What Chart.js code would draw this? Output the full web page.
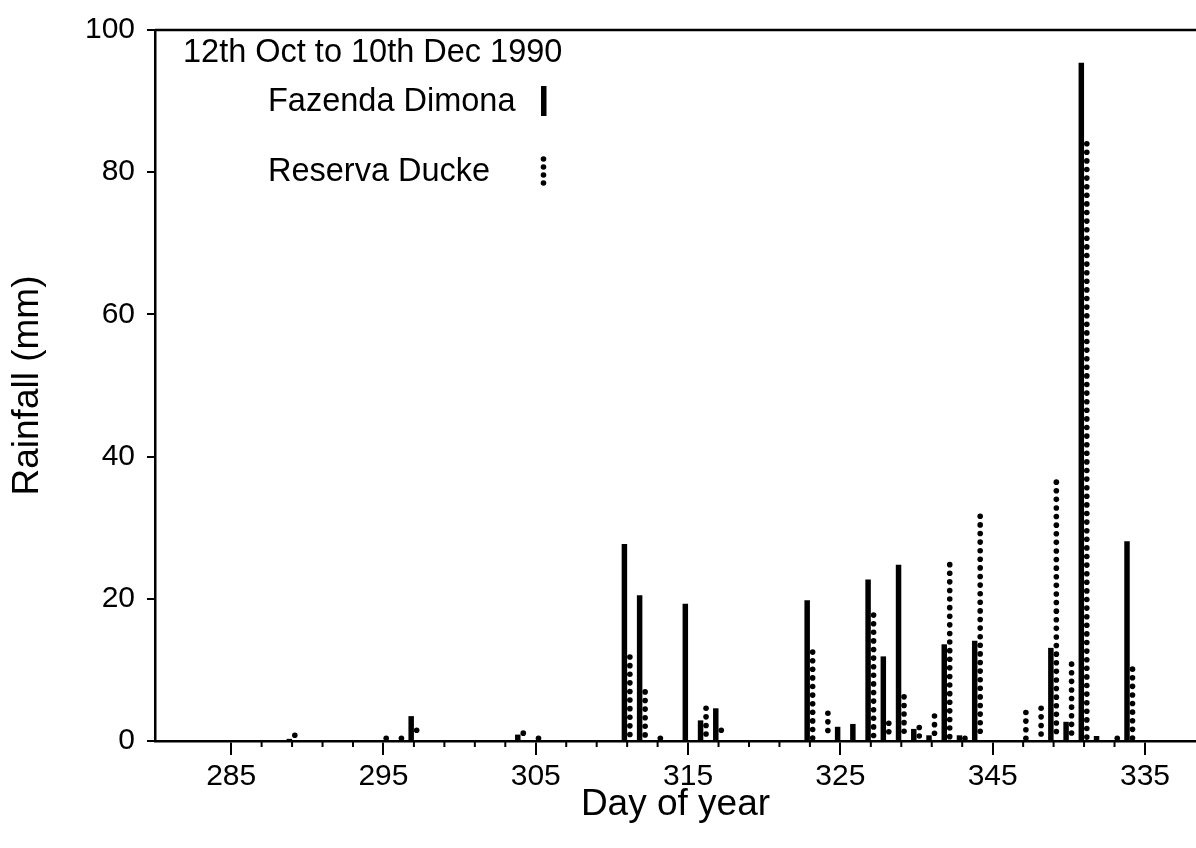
<!DOCTYPE html>
<html>
<head>
<meta charset="utf-8">
<script src="https://cdn.jsdelivr.net/npm/chart.js@4.4.1/dist/chart.umd.min.js"></script>
<style>
  html, body { margin: 0; padding: 0; background: #fff; }
  #wrap { width: 1196px; height: 848px; }
</style>
</head>
<body>
<div id="wrap"><canvas id="canvas"></canvas></div>
<script>
// days with rain, and daily totals (mm) at the two sites
const days = [289, 295, 296, 297, 304, 305, 311, 312, 313, 315, 316, 317, 323, 324, 325, 326,
              327, 328, 329, 330, 331, 332, 333, 334, 337, 338, 339, 340, 341, 342, 343, 344]
const fazenda = [0.3, null, null, 3.5, 0.9, null, 27.7, 20.5, null, 19.3, 2.9, 4.6, 19.8, null, 2.0, 2.4,
                 22.7, 11.9, 24.8, 1.7, 0.8, 13.6, 0.8, 14.1, null, null, 13.1, 2.7, 95.4, 0.7, null, 28.1]
const ducke = [1.2, 0.5, 0.6, 1.9, 1.5, 0.7, 12.2, 7.3, 0.4, null, 5.0, 1.9, 12.9, 4.3, null, null,
               18.1, 2.9, 6.6, 2.3, 3.9, 25.2, 0.6, 32.0, 4.4, 5.0, 36.8, 11.2, 84.4, null, 0.6, 10.5]

const xTicks = [285, 295, 305, 315, 325, 335, 345]
const xTickLabels = ['285', '295', '305', '315', '325', '345', '335']
const yTicks = [0, 20, 40, 60, 80, 100]
const period = '12th Oct to 10th Dec 1990'
const seriesNames = ['Fazenda Dimona', 'Reserva Ducke']

const minorTicks = []
for (let d = 287; d <= 343; d += 2) {
    if (!xTicks.includes(d)) minorTicks.push(d)
}

const FONT = '"Liberation Sans", Arial, Helvetica, sans-serif'
const DOT_STEP = 8.6
const DOT_R = 2.8

function dot(ctx, x, y) {
    ctx.beginPath()
    ctx.arc(x, y, DOT_R, 0, Math.PI * 2)
    ctx.fill()
}

// draws the Reserva Ducke bars as columns of dots, at the bar elements' positions
const dottedBars = {
    id: 'dottedBars',
    afterDatasetsDraw(chart) {
        const ctx = chart.ctx
        const meta = chart.getDatasetMeta(1)
        ctx.save()
        ctx.fillStyle = '#000'
        meta.data.forEach((bar, i) => {
            if (ducke[i] == null) return
            const p = bar.getProps(['x', 'y', 'base'], true)
            const n = Math.max(1, Math.round((p.base - p.y) / DOT_STEP))
            for (let k = 0; k < n; k++) {
                dot(ctx, p.x, Math.min(p.y + DOT_R + k * DOT_STEP, p.base - DOT_R + 1))
            }
        })
        ctx.restore()
    }
}

// top frame line, minor x ticks, and the key text block
const extras = {
    id: 'extras',
    afterDraw(chart) {
        const ctx = chart.ctx
        const area = chart.chartArea
        const xs = chart.scales.x
        ctx.save()
        ctx.strokeStyle = '#000'
        ctx.lineWidth = 2.5
        ctx.beginPath()
        ctx.moveTo(area.left, area.top)
        ctx.lineTo(area.right, area.top)
        ctx.stroke()

        ctx.lineWidth = 2
        minorTicks.forEach(d => {
            const x = xs.getPixelForValue(d)
            ctx.beginPath()
            ctx.moveTo(x, area.bottom)
            ctx.lineTo(x, area.bottom + 6)
            ctx.stroke()
        })

        ctx.fillStyle = '#000'
        ctx.font = '32.5px ' + FONT
        ctx.textBaseline = 'alphabetic'
        ctx.textAlign = 'left'
        ctx.fillText(period, 183, 62)
        ctx.fillText(seriesNames[0], 268, 111)
        ctx.fillText(seriesNames[1], 268, 181)

        ctx.fillRect(541, 86, 5.5, 30)
        for (let k = 0; k < 4; k++) dot(ctx, 543.5, 159 + k * 8)
        ctx.restore()
    }
}

const data = {
    datasets: [
        {
            label: seriesNames[0],
            data: days.map((d, i) => ({x: d, y: fazenda[i]})),
            backgroundColor: '#000',
            borderWidth: 0,
        },
        {
            label: seriesNames[1],
            data: days.map((d, i) => ({x: d, y: ducke[i]})),
            backgroundColor: 'rgba(0,0,0,0)',
            borderWidth: 0,
        }
    ]
}

const config = {
    type: 'bar',
    data: data,
    options: {
        responsive: true,
        maintainAspectRatio: false,
        animation: false,
        layout: {padding: {top: 19, right: 0, left: 0, bottom: 0}},
        datasets: {bar: {categoryPercentage: 0.72, barPercentage: 1.0}},
        plugins: {legend: {display: false}, tooltip: {enabled: false}},
        scales: {
            x: {
                type: 'linear',
                offset: false,
                min: 280,
                max: 348.35,
                afterBuildTicks: s => { s.ticks = xTicks.map(v => ({value: v})) },
                afterFit: s => { s.height = 107 },
                ticks: {
                    autoSkip: false,
                    maxRotation: 0,
                    padding: 4,
                    color: '#000',
                    font: {family: FONT, size: 30},
                    callback: v => xTickLabels[xTicks.indexOf(v)]
                },
                grid: {offset: false, drawOnChartArea: false, tickLength: 14, color: '#000', lineWidth: 2},
                border: {color: '#000', width: 2.5},
                title: {
                    display: true,
                    text: 'Day of year',
                    color: '#000',
                    font: {family: FONT, size: 37},
                    padding: {top: 0, bottom: 21}
                }
            },
            y: {
                min: 0,
                max: 100,
                afterBuildTicks: s => { s.ticks = yTicks.map(v => ({value: v})) },
                afterFit: s => { s.width = 155 },
                ticks: {
                    padding: 12,
                    color: '#000',
                    font: {family: FONT, size: 30}
                },
                grid: {drawOnChartArea: false, tickLength: 8, color: '#000', lineWidth: 2},
                border: {color: '#000', width: 2.5},
                title: {
                    display: true,
                    text: 'Rainfall (mm)',
                    color: '#000',
                    font: {family: FONT, size: 37},
                    padding: {top: 6, bottom: 0}
                }
            }
        }
    },
    plugins: [dottedBars, extras]
}

const canvas = document.getElementById('canvas')
const chart = new Chart(canvas, config)
</script>
</body>
</html>
